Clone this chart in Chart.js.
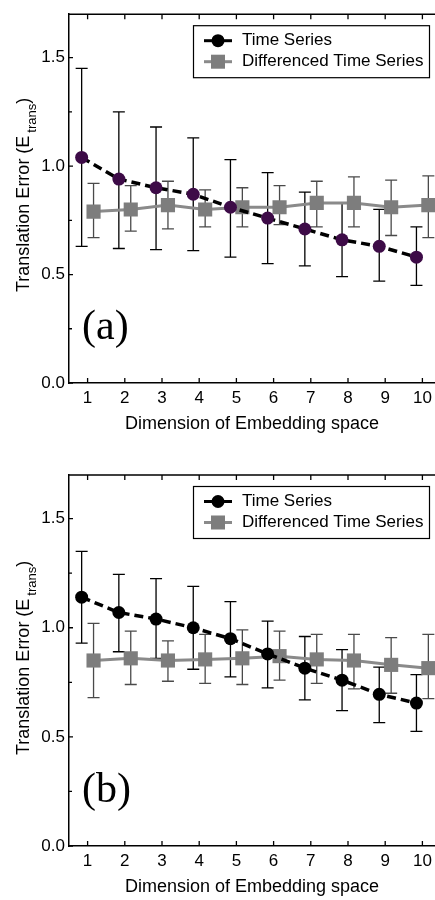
<!DOCTYPE html>
<html>
<head>
<meta charset="utf-8">
<script src="https://cdn.jsdelivr.net/npm/chart.js@4.4.1/dist/chart.umd.min.js"></script>
<style>
  html, body { margin: 0; padding: 0; background: #fff; overflow: hidden; }
  canvas { position: absolute; left: 0; }
</style>
</head>
<body>
<canvas id="chartA" width="460" height="440" style="top:0px"></canvas>
<canvas id="chartB" width="460" height="460" style="top:440px"></canvas>
<script>
// Dimension of embedding space
const dims = [1, 2, 3, 4, 5, 6, 7, 8, 9, 10];

// Panel (a)
const tsA = [1.04, 0.94, 0.90, 0.87, 0.81, 0.76, 0.71, 0.66, 0.63, 0.58];
const tsAHi = [1.45, 1.25, 1.18, 1.13, 1.03, 0.97, 0.88, 0.83, 0.80, 0.72];
const tsALo = [0.63, 0.62, 0.615, 0.61, 0.58, 0.55, 0.54, 0.49, 0.47, 0.45];
const dfA = [0.79, 0.80, 0.82, 0.80, 0.81, 0.81, 0.83, 0.83, 0.81, 0.82];
const dfAHi = [0.92, 0.91, 0.93, 0.89, 0.90, 0.91, 0.93, 0.95, 0.935, 0.955];
const dfALo = [0.67, 0.70, 0.71, 0.72, 0.72, 0.73, 0.72, 0.72, 0.68, 0.67];

// Panel (b)
const tsB = [1.14, 1.07, 1.04, 1.00, 0.95, 0.88, 0.815, 0.76, 0.695, 0.655];
const tsBHi = [1.35, 1.245, 1.225, 1.19, 1.12, 1.03, 0.96, 0.90, 0.82, 0.785];
const tsBLo = [0.93, 0.89, 0.86, 0.81, 0.775, 0.725, 0.67, 0.62, 0.565, 0.525];
const dfB = [0.85, 0.86, 0.85, 0.855, 0.86, 0.87, 0.855, 0.85, 0.83, 0.815];
const dfBHi = [1.02, 0.985, 0.94, 0.97, 0.99, 0.985, 0.97, 0.97, 0.955, 0.97];
const dfBLo = [0.68, 0.74, 0.755, 0.745, 0.74, 0.76, 0.745, 0.72, 0.70, 0.675];

// Axis ticks
const yMajor = [0, 0.5, 1.0, 1.5];
const yMinor = [0.25, 0.75, 1.25];

const SANS = '"Liberation Sans", Arial, sans-serif';
const SERIF = '"Liberation Serif", "Times New Roman", serif';
const TS_OFF = -0.16;
const DF_OFF = 0.16;

function pts(values, off) {
  return values.map((v, i) => ({ x: dims[i] + off, y: v }));
}

function errorBars(ctx, chart, values, hi, lo, off, color) {
  const xs = chart.scales.x, ys = chart.scales.y;
  ctx.save();
  ctx.strokeStyle = color;
  ctx.lineWidth = 1.3;
  values.forEach((v, i) => {
    const px = xs.getPixelForValue(dims[i] + off);
    const pt = ys.getPixelForValue(hi[i]);
    const pb = ys.getPixelForValue(lo[i]);
    ctx.beginPath();
    ctx.moveTo(px, pt); ctx.lineTo(px, pb);
    ctx.moveTo(px - 6, pt); ctx.lineTo(px + 6, pt);
    ctx.moveTo(px - 6, pb); ctx.lineTo(px + 6, pb);
    ctx.stroke();
  });
  ctx.restore();
}

function makeChart(id, cfg) {
  const canvas = document.getElementById(id);
  const ctx = canvas.getContext("2d");

  const decor = {
    id: "decor",
    beforeDatasetsDraw(chart) {
      const c = chart.ctx;
      errorBars(c, chart, cfg.df, cfg.dfHi, cfg.dfLo, DF_OFF, "#4a4a4a");
      errorBars(c, chart, cfg.ts, cfg.tsHi, cfg.tsLo, TS_OFF, "#000");
    },
    afterDraw(chart) {
      const c = chart.ctx;
      const a = chart.chartArea;
      const xs = chart.scales.x, ys = chart.scales.y;
      c.save();
      c.strokeStyle = "#000";
      c.lineWidth = 1.5;
      // frame
      c.beginPath();
      c.moveTo(a.left, a.top); c.lineTo(a.right, a.top); c.lineTo(a.right, a.bottom);
      c.stroke();
      // inward ticks
      c.lineWidth = 1.3;
      c.beginPath();
      dims.forEach((d) => {
        const px = xs.getPixelForValue(d);
        c.moveTo(px, a.bottom); c.lineTo(px, a.bottom - 5);
        c.moveTo(px, a.top); c.lineTo(px, a.top + 5);
      });
      yMajor.forEach((v) => {
        const py = ys.getPixelForValue(v);
        c.moveTo(a.left, py); c.lineTo(a.left + 4, py);
      });
      yMinor.forEach((v) => {
        const py = ys.getPixelForValue(v);
        c.moveTo(a.left, py); c.lineTo(a.left + 3, py);
      });
      c.stroke();

      // panel label
      c.fillStyle = "#000";
      c.font = "42px " + SERIF;
      c.textAlign = "left";
      c.textBaseline = "alphabetic";
      c.fillText(cfg.label, a.left + 13, a.bottom - 44);

      // x title
      c.font = "18px " + SANS;
      c.textAlign = "center";
      c.textBaseline = "middle";
      c.fillText("Dimension of Embedding space", (a.left + a.right) / 2 - 3, a.bottom + 41);

      // y title with subscript
      c.save();
      c.translate(28.5, a.bottom - 91);
      c.rotate(-Math.PI / 2);
      c.textAlign = "left";
      c.textBaseline = "alphabetic";
      const main = "Translation Error (E";
      c.font = "18px " + SANS;
      c.fillText(main, 0, 0);
      let w = c.measureText(main).width + 3;
      c.font = "13px " + SANS;
      c.fillText("trans", w, 7);
      w += c.measureText("trans").width;
      c.font = "18px " + SANS;
      c.fillText(")", w, 0);
      c.restore();

      // legend
      const lx = a.right - 248, ly = a.top + 11;
      c.lineWidth = 1.2;
      c.strokeStyle = "#000";
      c.strokeRect(lx + 0.5, ly + 0.5, 236, 52);
      const rows = [
        { y: ly + 15.5, text: "Time Series", line: "#000", mark: "#000", shape: "circle" },
        { y: ly + 36.5, text: "Differenced Time Series", line: "#8a8a8a", mark: "#7d7d7d", shape: "rect" },
      ];
      rows.forEach((r) => {
        c.strokeStyle = r.line;
        c.lineWidth = 3;
        c.beginPath();
        c.moveTo(lx + 11, r.y); c.lineTo(lx + 39, r.y);
        c.stroke();
        c.fillStyle = r.mark;
        if (r.shape === "circle") {
          c.beginPath();
          c.arc(lx + 25, r.y, 6.5, 0, Math.PI * 2);
          c.fill();
        } else {
          c.fillRect(lx + 25 - 7, r.y - 7, 14, 14);
        }
        c.fillStyle = "#000";
        c.font = "17px " + SANS;
        c.textAlign = "left";
        c.textBaseline = "middle";
        c.fillText(r.text, lx + 49, r.y);
      });
      c.restore();
    },
  };

  return new Chart(ctx, {
    type: "line",
    data: {
      datasets: [
        {
          label: "Time Series",
          data: pts(cfg.ts, TS_OFF),
          borderColor: "#000",
          borderWidth: 3.5,
          borderDash: [9, 5],
          pointStyle: "circle",
          pointRadius: 6.5,
          pointBorderWidth: 0,
          pointBackgroundColor: cfg.dot,
          tension: 0,
        },
        {
          label: "Differenced Time Series",
          data: pts(cfg.df, DF_OFF),
          borderColor: "#8a8a8a",
          borderWidth: 3,
          pointStyle: "rect",
          pointRadius: 10,
          pointBorderWidth: 0,
          pointBackgroundColor: "#7d7d7d",
          tension: 0,
        },
      ],
    },
    options: {
      responsive: false,
      animation: false,
      devicePixelRatio: 1,
      layout: { padding: { top: cfg.padTop, right: 19, left: 0, bottom: 0 } },
      plugins: {
        legend: { display: false },
        tooltip: { enabled: false },
      },
      scales: {
        x: {
          type: "linear",
          min: 0.5,
          max: 10.5,
          afterBuildTicks: (s) => { s.ticks = dims.map((v) => ({ value: v })); },
          afterFit: (s) => { s.height = cfg.xHeight; },
          grid: { display: false, drawTicks: false },
          border: { display: true, color: "#000", width: 1.5 },
          ticks: {
            color: "#000",
            font: { family: SANS, size: 17 },
            padding: 5,
            maxRotation: 0,
            callback: (v) => String(v),
          },
        },
        y: {
          min: 0,
          max: 1.7,
          afterBuildTicks: (s) => { s.ticks = yMajor.map((v) => ({ value: v })); },
          afterFit: (s) => { s.width = 69; },
          grid: { display: false, drawTicks: false },
          border: { display: true, color: "#000", width: 1.5 },
          ticks: {
            color: "#000",
            font: { family: SANS, size: 17 },
            padding: 4,
            callback: (v) => v.toFixed(1),
          },
        },
      },
    },
    plugins: [decor],
  });
}

makeChart("chartA", {
  label: "(a)", dot: "#3d0b47", padTop: 10, xHeight: 57,
  ts: tsA, tsHi: tsAHi, tsLo: tsALo, df: dfA, dfHi: dfAHi, dfLo: dfALo,
});
makeChart("chartB", {
  label: "(b)", dot: "#000", padTop: 35, xHeight: 54,
  ts: tsB, tsHi: tsBHi, tsLo: tsBLo, df: dfB, dfHi: dfBHi, dfLo: dfBLo,
});
</script>
</body>
</html>
